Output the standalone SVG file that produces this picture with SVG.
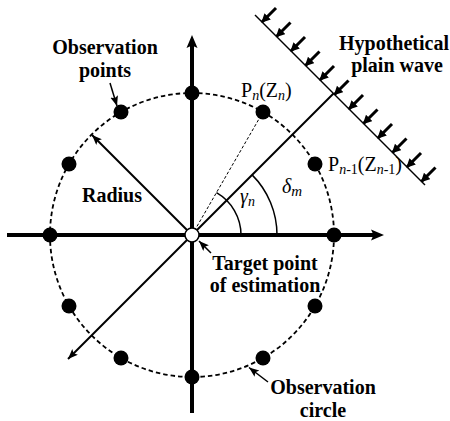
<svg xmlns="http://www.w3.org/2000/svg" width="450" height="421" viewBox="0 0 450 421">
<style>
.lbl{font-family:"Liberation Serif","Times New Roman",serif;font-weight:bold;font-size:20px;fill:#000;text-anchor:middle}
.mth{font-family:"Liberation Serif","Times New Roman",serif;font-size:20px;fill:#000}
.it{font-style:italic}
.dot{fill:#000}
.thin{stroke:#000;stroke-width:1.5;fill:none}
.wv{stroke:#000;stroke-width:3;fill:none;marker-end:url(#wh)}
</style>
<defs>
<marker id="ah" markerUnits="userSpaceOnUse" markerWidth="11" markerHeight="9" refX="10" refY="4" orient="auto">
<path d="M0,0 L10,4 L0,8 L2,4 z" fill="#000"/>
</marker>
<marker id="wh" markerUnits="userSpaceOnUse" markerWidth="10" markerHeight="10" refX="8" refY="4.5" orient="auto">
<path d="M0,0 L9,4.5 L0,9 z" fill="#000"/>
</marker>
</defs>
<rect width="450" height="421" fill="#fff"/>

<g id="connectors">
  <!-- axes -->
  <line x1="7" y1="235" x2="374" y2="235" stroke="#000" stroke-width="4"/>
  <path d="M384,235 L371,229.5 L373.5,235 L371,240.5 z" fill="#000"/>
  <line x1="192" y1="45" x2="192" y2="413" stroke="#000" stroke-width="4"/>
  <path d="M192,35 L186.5,48 L192,45.5 L197.5,48 z" fill="#000"/>
  <!-- observation circle -->
  <circle cx="192" cy="235" r="142" fill="none" stroke="#000" stroke-width="1.8" stroke-dasharray="4.5,3"/>
  <!-- diagonal wave direction -->
  <line x1="333.5" y1="93.5" x2="68" y2="359" stroke="#000" stroke-width="2" marker-end="url(#ah)"/>
  <!-- radius -->
  <line x1="192" y1="235" x2="92" y2="135" stroke="#000" stroke-width="2" marker-end="url(#ah)"/>
  <!-- dashed line to Pn -->
  <line x1="192" y1="235" x2="263" y2="112" stroke="#000" stroke-width="1" stroke-dasharray="3,2"/>
  <!-- angle arcs -->
  <path class="thin" stroke-width="1.2" d="M241,235 A49,49 0 0 0 216.5,192.6"/>
  <path class="thin" stroke-width="1.2" d="M277,235 A85,85 0 0 0 252.1,174.9"/>
  <!-- label pointers -->
  <line class="thin" x1="110" y1="83" x2="117" y2="106" marker-end="url(#ah)"/>
  <line class="thin" x1="211" y1="253" x2="199" y2="241" marker-end="url(#ah)"/>
  <line class="thin" x1="268" y1="382" x2="249" y2="367.5" marker-end="url(#ah)"/>
  <!-- plane wave -->
  <line x1="255" y1="15" x2="425" y2="185" stroke="#000" stroke-width="1.5"/>
  <line class="wv" x1="276" y1="8" x2="262" y2="22"/>
  <line class="wv" x1="290.5" y1="22.5" x2="276.5" y2="36.5"/>
  <line class="wv" x1="305" y1="37" x2="291" y2="51"/>
  <line class="wv" x1="319.5" y1="51.5" x2="305.5" y2="65.5"/>
  <line class="wv" x1="334" y1="66" x2="320" y2="80"/>
  <line class="wv" x1="348.5" y1="80.5" x2="334.5" y2="94.5"/>
  <line class="wv" x1="363" y1="95" x2="349" y2="109"/>
  <line class="wv" x1="377.5" y1="109.5" x2="363.5" y2="123.5"/>
  <line class="wv" x1="392" y1="124" x2="378" y2="138"/>
  <line class="wv" x1="406.5" y1="138.5" x2="392.5" y2="152.5"/>
  <line class="wv" x1="421" y1="153" x2="407" y2="167"/>
  <line class="wv" x1="435.5" y1="167.5" x2="421.5" y2="181.5"/>
</g>

<g id="observation-points">
  <circle class="dot" cx="192" cy="93" r="7.5"/>
  <circle class="dot" cx="263" cy="112" r="7.5"/>
  <circle class="dot" cx="315" cy="164" r="7.5"/>
  <circle class="dot" cx="334" cy="235" r="7.5"/>
  <circle class="dot" cx="315" cy="306" r="7.5"/>
  <circle class="dot" cx="263" cy="358" r="7.5"/>
  <circle class="dot" cx="192" cy="377" r="7.5"/>
  <circle class="dot" cx="121" cy="358" r="7.5"/>
  <circle class="dot" cx="69" cy="306" r="7.5"/>
  <circle class="dot" cx="50" cy="235" r="7.5"/>
  <circle class="dot" cx="69" cy="164" r="7.5"/>
  <circle class="dot" cx="121" cy="112" r="7.5"/>
</g>

<g id="target-point">
  <circle cx="192" cy="235" r="7" fill="#fff" stroke="#000" stroke-width="1.5"/>
</g>

<g id="labels">
  <text class="lbl" x="105" y="54">Observation</text>
  <text class="lbl" x="105" y="77">points</text>
  <text class="lbl" x="394" y="50">Hypothetical</text>
  <text class="lbl" x="397" y="72">plain wave</text>
  <text class="lbl" x="112" y="202">Radius</text>
  <text class="lbl" x="265" y="270">Target point</text>
  <text class="lbl" x="265" y="292">of estimation</text>
  <text class="lbl" x="323" y="394">Observation</text>
  <text class="lbl" x="323" y="417">circle</text>
  <text class="mth" x="241" y="97">P<tspan class="it" font-size="14" dy="3">n</tspan><tspan dy="-3">(Z</tspan><tspan class="it" font-size="14" dy="3">n</tspan><tspan dy="-3">)</tspan></text>
  <text class="mth" x="328" y="171">P<tspan class="it" font-size="14" dy="3">n</tspan><tspan font-size="14">-1</tspan><tspan dy="-3">(Z</tspan><tspan class="it" font-size="14" dy="3">n</tspan><tspan font-size="14">-1</tspan><tspan dy="-3">)</tspan></text>
  <text class="mth it" x="240" y="203">γ<tspan font-size="14" dy="3">n</tspan></text>
  <text class="mth it" x="282" y="193" font-size="22">δ<tspan font-size="15" dy="3">m</tspan></text>
</g>
</svg>
